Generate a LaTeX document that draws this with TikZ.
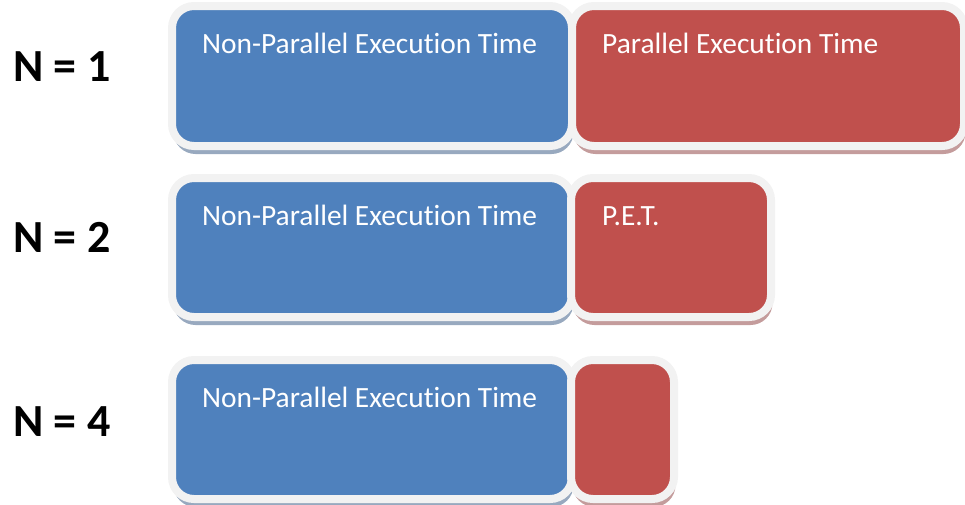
\documentclass[tikz,border=0pt]{standalone}
\usepackage{fontspec}
\setmainfont[Ligatures=NoCommon]{Carlito}
\usetikzlibrary{shadows,calc}
\definecolor{npblue}{HTML}{4F81BD}
\definecolor{pred}{HTML}{C0504D}
\definecolor{rim}{HTML}{F2F2F2}
\definecolor{blueshade}{HTML}{98A9BF}
\definecolor{redshade}{HTML}{C49C9C}
\tikzset{
  timebox/.style={rectangle, rounded corners=22pt, draw=rim, line width=8pt,
    inner sep=0pt, outer sep=0pt},
  serialbox/.style={timebox, fill=npblue,
    drop shadow={shadow xshift=1.5pt, shadow yshift=-8pt, fill=blueshade, opacity=1}},
  parbox/.style={timebox, fill=pred,
    drop shadow={shadow xshift=1.5pt, shadow yshift=-8pt, fill=redshade, opacity=1}},
  boxtext/.style={anchor=base west, inner sep=0pt, text=white,
    font=\fontsize{29.4}{31}\selectfont},
  nlabel/.style={anchor=base west, inner sep=0pt, text=black,
    font=\fontsize{46}{48}\selectfont\bfseries},
}
\begin{document}
\begin{tikzpicture}[x=1pt,y=-1pt]
\useasboundingbox (0,0) rectangle (965,504);

% N = 1
\node[serialbox, minimum width=400pt, minimum height=140pt] (s1) at (372,76) {};
\node[parbox, minimum width=392pt, minimum height=140pt] (p1) at (768,76) {};
\node[boxtext] (s1t) at ($(s1.north west)+(30,47)$) {Non-Parallel Execution Time};
\node[boxtext] (p1t) at ($(p1.north west)+(30,47)$) {Parallel Execution Time};
\node[nlabel] (n1) at (13,81) {N = 1};

% N = 2
\node[serialbox, minimum width=400pt, minimum height=139pt] (s2) at (372,247.5) {};
\node[parbox, minimum width=200pt, minimum height=139pt] (p2) at (671,247.5) {};
\node[boxtext] (s2t) at ($(s2.north west)+(30,47)$) {Non-Parallel Execution Time};
\node[boxtext] (p2t) at ($(p2.north west)+(31,47)$) {P.E.T.};
\node[nlabel] (n2) at (13,252) {N = 2};

% N = 4
\node[serialbox, minimum width=400pt, minimum height=139pt] (s4) at (372,429.5) {};
\node[parbox, minimum width=103pt, minimum height=139pt] (p4) at (622.5,429.5) {};
\node[boxtext] (s4t) at ($(s4.north west)+(30,47)$) {Non-Parallel Execution Time};
\node[nlabel] (n4) at (13,436) {N = 4};
\end{tikzpicture}
\end{document}
